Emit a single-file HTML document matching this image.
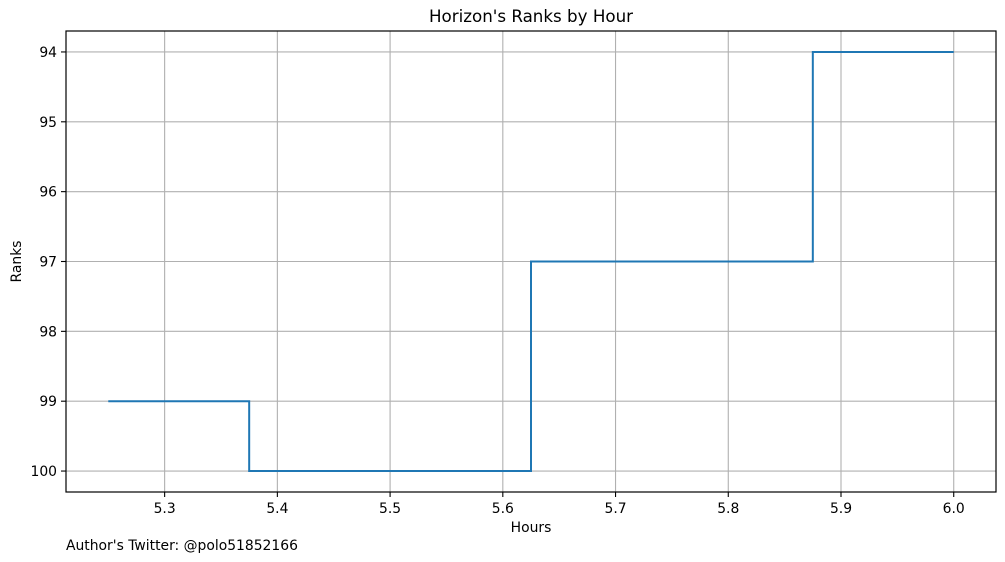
<!DOCTYPE html>
<html><head><meta charset="utf-8"><style>
body{margin:0;background:#fff;}
svg{display:block;font-family:"DejaVu Sans","Liberation Sans",sans-serif;}
</style></head><body>
<svg id="c" width="1005" height="562" xmlns="http://www.w3.org/2000/svg"></svg>
<script>
const hours = [5.25, 5.375, 5.5, 5.625, 5.75, 5.875, 6.0];
const ranks = [99, 100, 100, 97, 97, 94, 94];
const xTicks = [5.3, 5.4, 5.5, 5.6, 5.7, 5.8, 5.9, 6.0];
const yTicks = [94, 95, 96, 97, 98, 99, 100];

const L=66,R=996,T=31,B=492;
const xmin=5.2125,xmax=6.0375,ymin=93.7,ymax=100.3;
const sx=v=>L+(v-xmin)/(xmax-xmin)*(R-L);
const sy=v=>T+(v-ymin)/(ymax-ymin)*(B-T);
const svg=document.getElementById('c');
const NS='http://www.w3.org/2000/svg';
function mk(tag,attrs,parent){const e=document.createElementNS(NS,tag);for(const k in attrs)e.setAttribute(k,attrs[k]);(parent||svg).appendChild(e);return e;}

const grid=mk('g',{});


xTicks.forEach(t=>{
  const x=sx(t);
  mk('line',{x1:x,x2:x,y1:T,y2:B,stroke:'#b0b0b0','stroke-width':1.1},grid);
  const tk=mk('line',{x1:x,x2:x,y1:B,y2:B+5,stroke:'#000','stroke-width':1.1});
  
  
  const tx=mk('text',{x:x,y:513,'text-anchor':'middle','font-size':13.9});
  tx.textContent=t.toFixed(1);
  
  
});
yTicks.forEach(t=>{
  const y=sy(t);
  mk('line',{x1:L,x2:R,y1:y,y2:y,stroke:'#b0b0b0','stroke-width':1.1},grid);
  const tk=mk('line',{x1:L-5,x2:L,y1:y,y2:y,stroke:'#000','stroke-width':1.1});
  
  
  const tx=mk('text',{x:L-9,y:y+5,'text-anchor':'end','font-size':13.9});
  tx.textContent=t;
  
  
});

let d='';
hours.forEach((h,i)=>{
  if(i===0){d+='M'+sx(h)+','+sy(ranks[i]);}
  else{d+=' H'+sx(h)+' V'+sy(ranks[i]);}
});
const line=mk('path',{d:d,fill:'none',stroke:'#1f77b4','stroke-width':2});



const frame=mk('rect',{x:L,y:T,width:R-L,height:B-T,fill:'none',stroke:'#000','stroke-width':1.2});



const title=mk('text',{x:(L+R)/2,y:22,'text-anchor':'middle','font-size':16.7});
title.textContent="Horizon's Ranks by Hour";



const xl=mk('text',{x:(L+R)/2,y:532,'text-anchor':'middle','font-size':13.9});
xl.textContent='Hours';



const yl=mk('text',{x:0,y:0,'text-anchor':'middle','font-size':13.9,transform:'translate(21,'+((T+B)/2)+') rotate(-90)'});
yl.textContent='Ranks';



const au=mk('text',{x:66,y:550,'font-size':13.9});
au.textContent="Author's Twitter: @polo51852166";


</script>
</body></html>
